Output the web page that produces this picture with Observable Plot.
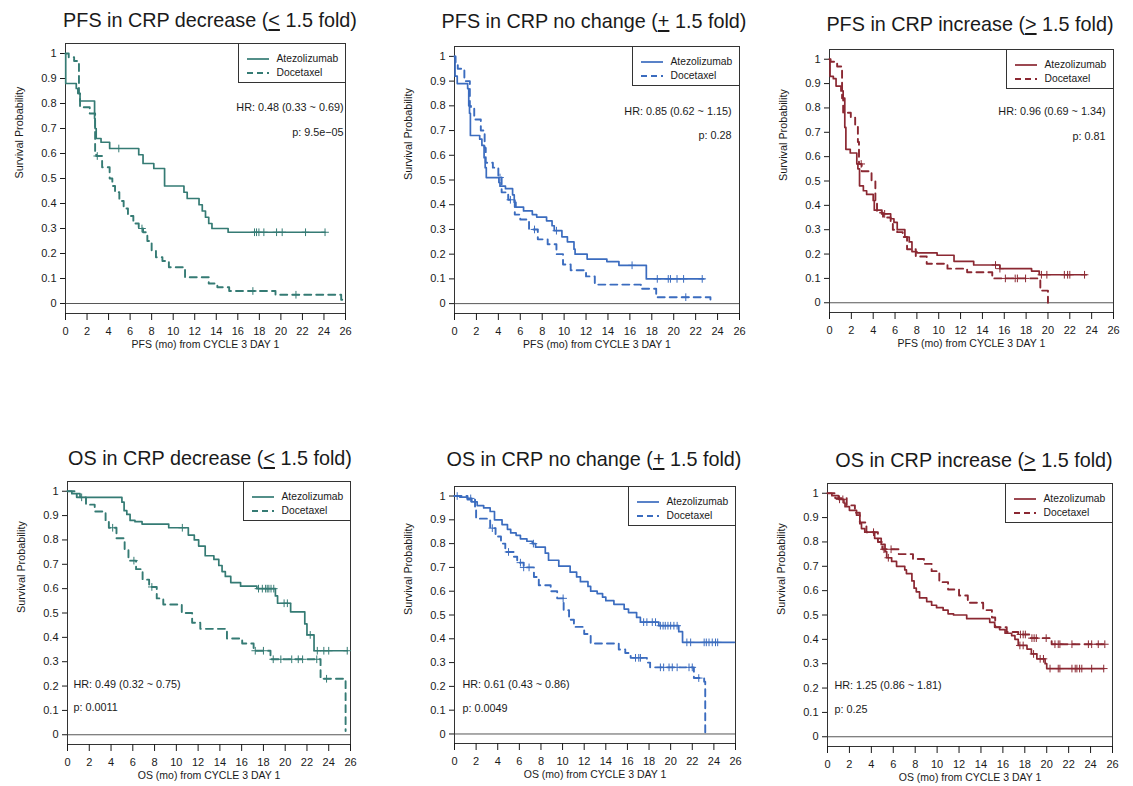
<!DOCTYPE html>
<html><head><meta charset="utf-8">
<script src="https://cdn.jsdelivr.net/npm/d3@7"></script>
<script src="https://cdn.jsdelivr.net/npm/@observablehq/plot@0.6"></script>
<style>
html,body{margin:0;padding:0;background:#fff;}
#root{position:relative;width:1133px;height:786px;overflow:hidden;font-family:"Liberation Sans",Arial,Helvetica,sans-serif;color:#1a1a1a;}
.title{position:absolute;font-size:19.8px;white-space:nowrap;transform:translateX(-50%);line-height:24px;}
.title u{text-decoration:underline;text-decoration-thickness:1.5px;text-underline-offset:2px;}
.legend{position:absolute;box-sizing:border-box;border:1px solid #333;background:#fff;font-size:10.3px;}
.legend .row{position:absolute;left:0;height:14px;white-space:nowrap;}
.legend .row svg{position:absolute;left:8px;top:5px;}
.legend .row span{position:absolute;left:38px;top:0;line-height:14px;}
.plotwrap{position:absolute;}
.plotwrap svg{overflow:visible;}
</style></head><body><div id="root"></div><script>
// ---------- categories / labels ----------
const seriesNames = ["Atezolizumab", "Docetaxel"];
const titleMain = ["PFS in CRP decrease", "PFS in CRP no change", "PFS in CRP increase",
                   "OS in CRP decrease", "OS in CRP no change", "OS in CRP increase"];
const titleSign = ["<", "+", ">", "<", "+", ">"];
const titleTail = " 1.5 fold)";
const xLabels = ["PFS (mo) from CYCLE 3 DAY 1", "PFS (mo) from CYCLE 3 DAY 1", "PFS (mo) from CYCLE 3 DAY 1",
                 "OS (mo) from CYCLE 3 DAY 1", "OS (mo) from CYCLE 3 DAY 1", "OS (mo) from CYCLE 3 DAY 1"];
const yLabel = "Survival Probability";
const hrTexts = ["HR: 0.48 (0.33 ~ 0.69)", "HR: 0.85 (0.62 ~ 1.15)", "HR: 0.96 (0.69 ~ 1.34)",
                 "HR: 0.49 (0.32 ~ 0.75)", "HR: 0.61 (0.43 ~ 0.86)", "HR: 1.25 (0.86 ~ 1.81)"];
const pTexts = ["p: 9.5e\u221205", "p: 0.28", "p: 0.81", "p: 0.0011", "p: 0.0049", "p: 0.25"];
const xTicks = [0, 2, 4, 6, 8, 10, 12, 14, 16, 18, 20, 22, 24, 26];
const yTicks = [0, 0.1, 0.2, 0.3, 0.4, 0.5, 0.6, 0.7, 0.8, 0.9, 1];

// ---------- PFS, CRP decrease ----------
const pfsDecAtezoTime = [0, 0.02, 1.0, 1.15, 1.35, 2.7, 2.75, 2.85, 3.3, 4.1, 6.8, 7.2, 8.2, 9.2, 11.0, 11.3, 12.4, 12.7, 13.0, 13.3, 13.6, 15.1, 24.1];
const pfsDecAtezoSurv = [1, 0.88, 0.86, 0.84, 0.81, 0.74, 0.70, 0.66, 0.645, 0.62, 0.595, 0.56, 0.54, 0.47, 0.445, 0.42, 0.395, 0.37, 0.345, 0.32, 0.30, 0.285, 0.285];
const pfsDecAtezoCens = [4.95, 17.55, 17.74, 17.96, 18.42, 19.6, 20.12, 22.29, 24.1];
const pfsDecDoceTime = [0, 0.3, 0.8, 1.25, 1.35, 2.25, 2.75, 2.85, 3.4, 4.1, 4.35, 4.6, 5.0, 5.4, 5.8, 6.3, 6.8, 7.2, 7.6, 8.0, 8.4, 9.0, 9.6, 11.1, 13.3, 14.1, 15.2, 19.5, 25.6, 25.8];
const pfsDecDoceSurv = [1, 0.985, 0.97, 0.84, 0.785, 0.76, 0.60, 0.59, 0.545, 0.50, 0.47, 0.445, 0.41, 0.38, 0.35, 0.32, 0.30, 0.285, 0.25, 0.21, 0.185, 0.17, 0.145, 0.105, 0.08, 0.065, 0.05, 0.035, 0.015, 0.015];
const pfsDecDoceCens = [2.95, 7.1, 17.4, 21.4];

// ---------- PFS, CRP no change ----------
const pfsNcAtezoTime = [0, 0.05, 0.25, 1.2, 1.3, 1.37, 1.45, 2.3, 2.5, 2.7, 2.8, 2.9, 4.05, 4.15, 4.65, 5.3, 5.45, 5.6, 6.3, 7.1, 7.5, 8.4, 8.9, 9.1, 9.8, 10.3, 10.9, 11.0, 12.1, 13.9, 15.0, 17.5, 22.75];
const pfsNcAtezoSurv = [1, 0.92, 0.89, 0.87, 0.80, 0.77, 0.68, 0.665, 0.64, 0.59, 0.55, 0.51, 0.49, 0.475, 0.465, 0.44, 0.41, 0.39, 0.375, 0.36, 0.35, 0.335, 0.315, 0.295, 0.27, 0.25, 0.22, 0.20, 0.18, 0.17, 0.155, 0.10, 0.10];
const pfsNcAtezoCens = [9.3, 16.2, 18.5, 19.5, 19.7, 20.3, 20.9, 22.6];
const pfsNcDoceTime = [0, 0.1, 0.3, 0.9, 1.4, 1.5, 1.8, 2.4, 2.75, 2.85, 3.5, 4.0, 4.3, 4.9, 5.5, 6.0, 6.8, 7.6, 8.5, 9.3, 9.9, 10.6, 12.0, 12.8, 17.0, 18.4, 23.35, 23.4];
const pfsNcDoceSurv = [1, 0.97, 0.95, 0.90, 0.80, 0.79, 0.745, 0.70, 0.63, 0.57, 0.55, 0.51, 0.45, 0.42, 0.36, 0.34, 0.30, 0.26, 0.24, 0.20, 0.158, 0.135, 0.11, 0.077, 0.06, 0.026, 0, 0];
const pfsNcDoceCens = [4.15, 5.1, 7.3, 21.1];

// ---------- PFS, CRP increase ----------
const pfsIncAtezoTime = [0, 0.05, 0.35, 0.6, 1.05, 1.25, 1.4, 1.5, 1.9, 2.5, 2.6, 2.75, 3.1, 3.4, 4.0, 4.1, 4.8, 5.6, 5.9, 6.2, 6.9, 7.3, 7.55, 8.0, 9.85, 11.4, 13.2, 15.6, 18.5, 19.2, 23.5];
const pfsIncAtezoSurv = [1, 0.93, 0.92, 0.89, 0.87, 0.84, 0.72, 0.63, 0.615, 0.57, 0.55, 0.48, 0.46, 0.445, 0.42, 0.38, 0.365, 0.345, 0.33, 0.30, 0.27, 0.25, 0.21, 0.205, 0.195, 0.17, 0.155, 0.14, 0.13, 0.115, 0.115];
const pfsIncAtezoCens = [5.05, 15.2, 15.6, 19.4, 19.9, 21.5, 21.8, 22.0, 23.35];
const pfsIncDoceTime = [0, 0.1, 0.7, 1.15, 1.25, 1.95, 2.35, 2.6, 2.7, 2.95, 3.85, 4.2, 4.35, 4.9, 5.6, 5.8, 6.2, 6.7, 7.1, 7.9, 8.9, 10.8, 12.6, 14.9, 19.3, 20.0];
const pfsIncDoceSurv = [1, 0.99, 0.97, 0.84, 0.78, 0.76, 0.73, 0.66, 0.57, 0.54, 0.50, 0.42, 0.37, 0.35, 0.33, 0.30, 0.29, 0.27, 0.22, 0.19, 0.16, 0.14, 0.125, 0.10, 0.05, 0];
const pfsIncDoceCens = [2.9, 16.1, 17.0, 17.2, 17.95];

// ---------- OS, CRP decrease ----------
const osDecAtezoTime = [0, 0.4, 1.15, 5.0, 5.2, 5.45, 5.75, 6.2, 6.85, 9.3, 11.1, 11.65, 12.05, 12.65, 13.45, 13.9, 14.2, 14.5, 15.0, 15.9, 17.4, 19.1, 19.3, 20.5, 21.8, 22.0, 22.65, 25.7];
const osDecAtezoSurv = [1, 0.99, 0.975, 0.955, 0.92, 0.905, 0.88, 0.875, 0.865, 0.85, 0.82, 0.80, 0.775, 0.735, 0.72, 0.695, 0.67, 0.65, 0.625, 0.61, 0.60, 0.57, 0.54, 0.505, 0.455, 0.41, 0.345, 0.345];
const osDecAtezoCens = [1.3, 10.55, 17.55, 17.9, 18.2, 18.35, 18.5, 18.7, 18.95, 19.9, 20.2, 22.3, 22.95, 23.55, 24.0, 25.7];
const osDecDoceTime = [0, 0.85, 1.7, 2.5, 3.5, 3.8, 4.5, 5.25, 5.6, 6.3, 6.9, 7.5, 8.2, 8.8, 10.5, 11.45, 12.2, 14.65, 16.05, 17.1, 18.65, 23.25, 25.55];
const osDecDoceSurv = [1, 0.975, 0.945, 0.917, 0.88, 0.85, 0.807, 0.76, 0.715, 0.68, 0.637, 0.607, 0.56, 0.535, 0.50, 0.46, 0.435, 0.395, 0.375, 0.345, 0.31, 0.23, 0.015];
const osDecDoceCens = [4.15, 6.1, 7.75, 17.25, 18.0, 18.9, 19.6, 20.6, 21.2, 21.6, 22.9, 23.8];

// ---------- OS, CRP no change ----------
const osNcAtezoTime = [0, 0.5, 1.2, 1.6, 2.1, 2.7, 3.3, 3.7, 4.4, 4.9, 5.2, 5.7, 6.1, 6.7, 7.2, 7.5, 8.4, 8.7, 9.65, 10.7, 11.3, 11.65, 12.35, 12.6, 13.2, 13.7, 14.0, 14.75, 15.7, 16.1, 16.85, 17.2, 18.9, 20.75, 21.1, 25.9];
const osNcAtezoSurv = [1, 0.995, 0.99, 0.975, 0.96, 0.95, 0.935, 0.90, 0.88, 0.86, 0.845, 0.835, 0.82, 0.81, 0.80, 0.785, 0.76, 0.73, 0.705, 0.68, 0.66, 0.64, 0.62, 0.60, 0.59, 0.575, 0.56, 0.545, 0.525, 0.51, 0.49, 0.47, 0.455, 0.43, 0.385, 0.385];
const osNcAtezoCens = [0.25, 1.5, 7.3, 17.5, 17.8, 18.3, 18.6, 19.05, 19.3, 19.5, 19.75, 20.0, 20.3, 20.6, 21.5, 21.85, 23.1, 23.3, 23.55, 23.85, 24.15, 24.35];
const osNcDoceTime = [0, 1.2, 1.9, 2.0, 3.3, 3.8, 4.3, 4.7, 5.5, 5.8, 6.4, 7.35, 7.8, 8.9, 9.5, 10.1, 10.6, 11.05, 12.0, 12.6, 15.2, 15.8, 16.3, 17.8, 18.1, 22.15, 23.1, 23.2];
const osNcDoceSurv = [1, 0.985, 0.94, 0.905, 0.865, 0.83, 0.80, 0.765, 0.745, 0.72, 0.70, 0.66, 0.625, 0.60, 0.57, 0.52, 0.48, 0.45, 0.42, 0.38, 0.355, 0.34, 0.32, 0.30, 0.28, 0.235, 0.22, 0];
const osNcDoceCens = [3.5, 5.0, 6.1, 6.4, 6.9, 10.05, 16.75, 17.05, 17.2, 19.05, 19.35, 19.85, 20.15, 20.6, 21.7, 22.0, 22.6];

// ---------- OS, CRP increase ----------
const osIncAtezoTime = [0, 0.4, 1.0, 1.5, 1.6, 2.0, 2.65, 2.95, 3.1, 3.4, 4.3, 4.9, 5.25, 5.4, 5.85, 6.3, 7.05, 7.2, 7.7, 7.9, 8.1, 8.4, 9.05, 9.5, 9.95, 10.55, 11.0, 11.5, 12.7, 14.8, 15.25, 15.7, 16.2, 16.8, 17.1, 17.4, 18.2, 18.6, 19.1, 19.85, 20.0, 25.2];
const osIncAtezoSurv = [1, 0.99, 0.975, 0.96, 0.945, 0.93, 0.91, 0.875, 0.855, 0.84, 0.815, 0.79, 0.76, 0.735, 0.72, 0.70, 0.685, 0.67, 0.64, 0.61, 0.595, 0.57, 0.555, 0.54, 0.53, 0.52, 0.505, 0.50, 0.485, 0.47, 0.45, 0.44, 0.425, 0.415, 0.40, 0.375, 0.36, 0.34, 0.32, 0.30, 0.28, 0.28];
const osIncAtezoCens = [1.1, 1.4, 4.2, 5.55, 17.55, 17.85, 18.8, 19.4, 19.7, 20.3, 21.05, 21.2, 22.3, 22.6, 22.75, 23.0, 23.2, 24.1, 25.2];
const osIncDoceTime = [0, 0.7, 1.75, 2.5, 2.95, 3.55, 4.6, 5.0, 6.5, 7.8, 8.8, 9.5, 10.2, 11.0, 12.0, 12.8, 14.2, 15.0, 15.3, 16.35, 17.4, 18.5, 20.45, 25.3];
const osIncDoceSurv = [1, 0.98, 0.95, 0.92, 0.88, 0.84, 0.80, 0.77, 0.75, 0.73, 0.71, 0.68, 0.635, 0.605, 0.58, 0.55, 0.52, 0.49, 0.45, 0.43, 0.42, 0.405, 0.38, 0.38];
const osIncDoceCens = [5.15, 5.8, 17.6, 17.85, 18.05, 18.65, 18.85, 19.05, 19.95, 20.75, 21.05, 21.2, 22.3, 23.8, 24.1, 24.7, 25.3];

// ---------- colours ----------
const panelColors = ["#357b74", "#3b6cbf", "#8b2832", "#357b74", "#3b6cbf", "#8b2832"];

// ---------- layout (pixel positions of each frame) ----------
const layout = [
  {L: 65,  T: 43,  R: 345,  B: 313, tx: 210, tb: 27,  anchor: "top-right",   sdx: -2, hrDy: 60,  pDy: 85},
  {L: 454, T: 46,  R: 739,  B: 313, tx: 594, tb: 28,  anchor: "top-right",   sdx: -8, hrDy: 61,  pDy: 85},
  {L: 829, T: 49,  R: 1113, B: 312, tx: 970, tb: 31,  anchor: "top-right",   sdx: -8, hrDy: 58,  pDy: 83},
  {L: 67,  T: 481, R: 350,  B: 744, tx: 210, tb: 465, anchor: "bottom-left", sdx: 6,  hrDy: -57, pDy: -34},
  {L: 454, T: 486, R: 735,  B: 743, tx: 594, tb: 466, anchor: "bottom-left", sdx: 8,  hrDy: -56, pDy: -32},
  {L: 827, T: 483, R: 1112, B: 746, tx: 974, tb: 467, anchor: "bottom-left", sdx: 7,  hrDy: -58, pDy: -34}
];

const seriesTables = [
  [pfsDecAtezoTime, pfsDecAtezoSurv, pfsDecAtezoCens, pfsDecDoceTime, pfsDecDoceSurv, pfsDecDoceCens],
  [pfsNcAtezoTime, pfsNcAtezoSurv, pfsNcAtezoCens, pfsNcDoceTime, pfsNcDoceSurv, pfsNcDoceCens],
  [pfsIncAtezoTime, pfsIncAtezoSurv, pfsIncAtezoCens, pfsIncDoceTime, pfsIncDoceSurv, pfsIncDoceCens],
  [osDecAtezoTime, osDecAtezoSurv, osDecAtezoCens, osDecDoceTime, osDecDoceSurv, osDecDoceCens],
  [osNcAtezoTime, osNcAtezoSurv, osNcAtezoCens, osNcDoceTime, osNcDoceSurv, osNcDoceCens],
  [osIncAtezoTime, osIncAtezoSurv, osIncAtezoCens, osIncDoceTime, osIncDoceSurv, osIncDoceCens]
];

function survAt(T, S, t) {
  let v = S[0];
  for (let i = 0; i < T.length; i++) { if (T[i] <= t + 1e-9) v = S[i]; else break; }
  return v;
}
const fmtY = d => (d === 0 ? "0" : d === 1 ? "1" : d.toFixed(1));
const FONT = '"Liberation Sans", Arial, Helvetica, sans-serif';
const DASH = "7,5";

const root = document.getElementById("root");

seriesTables.forEach((tab, i) => {
  const g = layout[i];
  const color = panelColors[i];
  const [aT, aS, aC, dT, dS, dC] = tab;
  const atezo = aT.map((t, k) => ({t, s: aS[k]}));
  const doce = dT.map((t, k) => ({t, s: dS[k]}));
  const atezoC = aC.map(t => ({t, s: survAt(aT, aS, t)}));
  const doceC = dC.map(t => ({t, s: survAt(dT, dS, t)}));
  const mL = 65, mR = 12, mT = 4, mB = 40;
  const W = g.R - g.L, H = g.B - g.T;
  const svg = Plot.plot({
    width: W + mL + mR,
    height: H + mT + mB,
    marginLeft: mL, marginRight: mR, marginTop: mT, marginBottom: mB,
    x: {domain: [0, 26]},
    y: {domain: [-0.04, 1.04]},
    style: {fontFamily: FONT, fontSize: "11px", color: "#1a1a1a", background: "transparent", overflow: "visible"},
    marks: [
      Plot.ruleY([0], {stroke: "#444", strokeWidth: 0.9}),
      Plot.frame({stroke: "#333", strokeWidth: 1}),
      Plot.axisY({ticks: yTicks, tickSize: 5, tickPadding: 4, tickFormat: fmtY, label: null}),
      Plot.axisX({ticks: xTicks, tickSize: 7, tickPadding: 7, label: null}),
      Plot.line(doce, {x: "t", y: "s", curve: "step-after", stroke: color, strokeWidth: 1.9, strokeDasharray: DASH}),
      Plot.line(atezo, {x: "t", y: "s", curve: "step-after", stroke: color, strokeWidth: 1.7}),
      Plot.dot(doceC, {x: "t", y: "s", symbol: "plus", r: 2.6, stroke: color, fill: "none", strokeWidth: 1}),
      Plot.dot(atezoC, {x: "t", y: "s", symbol: "plus", r: 2.6, stroke: color, fill: "none", strokeWidth: 1}),
      Plot.text([yLabel], {text: d => d, frameAnchor: "left", rotate: -90, dx: -46, fontSize: 10.8}),
      Plot.text([xLabels[i]], {text: d => d, frameAnchor: "bottom", dy: 34, fontSize: 10.5}),
      Plot.text([hrTexts[i]], {text: d => d, frameAnchor: g.anchor, dx: g.sdx, dy: g.hrDy, fontSize: 10.8,
                               textAnchor: g.anchor === "top-right" ? "end" : "start"}),
      Plot.text([pTexts[i]], {text: d => d, frameAnchor: g.anchor, dx: g.sdx, dy: g.pDy, fontSize: 10.8,
                              textAnchor: g.anchor === "top-right" ? "end" : "start"})
    ]
  });
  const wrap = document.createElement("div");
  wrap.className = "plotwrap";
  wrap.style.left = (g.L - mL) + "px";
  wrap.style.top = (g.T - mT) + "px";
  wrap.appendChild(svg);
  root.appendChild(wrap);

  // title
  const title = document.createElement("div");
  title.className = "title";
  title.style.left = g.tx + "px";
  title.style.top = (g.tb - 19) + "px";
  title.innerHTML = `${titleMain[i]} (<u>${titleSign[i] === "<" ? "&lt;" : titleSign[i] === ">" ? "&gt;" : titleSign[i]}</u>${titleTail}`;
  root.appendChild(title);

  // legend
  const lg = document.createElement("div");
  lg.className = "legend";
  const lw = 108, lh = 40;
  lg.style.left = (g.R - lw + 0.5) + "px";
  lg.style.top = (g.T) + "px";
  lg.style.width = lw + "px";
  lg.style.height = lh + "px";
  seriesNames.forEach((name, k) => {
    const row = document.createElement("div");
    row.className = "row";
    row.style.top = (8 + k * 14) + "px";
    row.style.width = lw + "px";
    row.innerHTML = `<svg width="22" height="4"><line x1="0" x2="22" y1="2" y2="2" stroke="${color}" stroke-width="${k ? 1.9 : 1.7}" ${k ? 'stroke-dasharray="6,4"' : ""}/></svg><span>${name}</span>`;
    lg.appendChild(row);
  });
  root.appendChild(lg);
});
</script></body></html>
